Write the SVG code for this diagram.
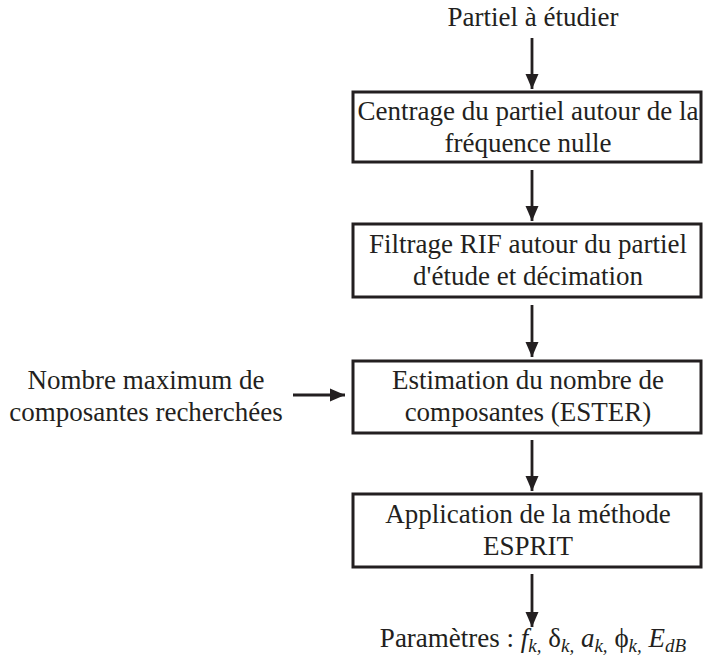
<svg xmlns="http://www.w3.org/2000/svg" width="705" height="657" viewBox="0 0 705 657">
<style>
text{font-family:"Liberation Serif","Times New Roman","DejaVu Serif",serif;font-size:27px;fill:#231f20;text-anchor:middle}
.box{fill:#fff;stroke:#231f20;stroke-width:3}
.c{stroke:#231f20;stroke-width:2.8;fill:none;marker-end:url(#ah)}
.s{font-style:italic;font-size:19px}
</style>
<defs>
<marker id="ah" markerWidth="16" markerHeight="14" refX="15" refY="6.5" orient="auto" markerUnits="userSpaceOnUse" viewBox="0 0 16 13">
<path d="M0,0 L15,6.5 L0,13 z" fill="#231f20"/>
</marker>
</defs>
<rect width="705" height="657" fill="#fff"/>
<g id="connectors">
<line class="c" x1="532" y1="38" x2="532" y2="89"/>
<line class="c" x1="532" y1="170" x2="532" y2="221"/>
<line class="c" x1="532" y1="305" x2="532" y2="357"/>
<line class="c" x1="532" y1="440" x2="532" y2="491"/>
<line class="c" x1="532" y1="574" x2="532" y2="627"/>
<line class="c" x1="293" y1="395" x2="345" y2="395"/>
</g>
<g id="input"><text x="533" y="26">Partiel à étudier</text></g>
<g id="n1">
<rect class="box" x="353" y="92" width="348" height="70"/>
<text x="528" y="120">Centrage du partiel autour de la</text>
<text x="528" y="152">fréquence nulle</text>
</g>
<g id="n2">
<rect class="box" x="353" y="224" width="348" height="73"/>
<text x="528" y="253">Filtrage RIF autour du partiel</text>
<text x="528" y="285">d'étude et décimation</text>
</g>
<g id="side">
<text x="146" y="389">Nombre maximum de</text>
<text x="146" y="421">composantes recherchées</text>
</g>
<g id="n3">
<rect class="box" x="353" y="361" width="348" height="72"/>
<text x="528" y="389">Estimation du nombre de</text>
<text x="528" y="421">composantes (ESTER)</text>
</g>
<g id="n4">
<rect class="box" x="353" y="494" width="348" height="73"/>
<text x="528" y="523">Application de la méthode</text>
<text x="528" y="555">ESPRIT</text>
</g>
<g id="output">
<text x="533" y="647">Paramètres : <tspan font-style="italic">f</tspan><tspan class="s" dy="5">k,</tspan><tspan dy="-5"> δ</tspan><tspan class="s" dy="5">k,</tspan><tspan dy="-5" font-style="italic"> a</tspan><tspan class="s" dy="5">k,</tspan><tspan dy="-5"> ϕ</tspan><tspan class="s" dy="5">k,</tspan><tspan dy="-5" font-style="italic"> E</tspan><tspan class="s" dy="5">dB</tspan></text>
</g>
</svg>
